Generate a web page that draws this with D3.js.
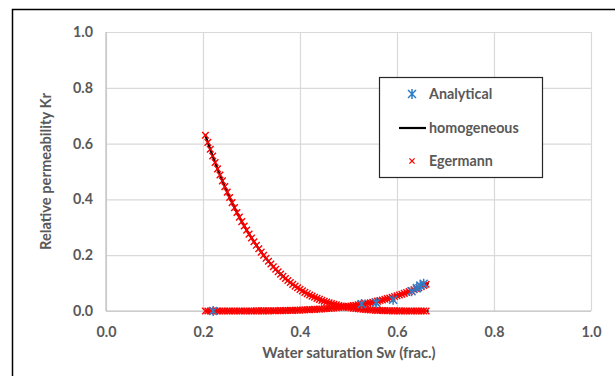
<!DOCTYPE html>
<html>
<head>
<meta charset="utf-8">
<script src="https://cdn.jsdelivr.net/npm/d3@7"></script>
<style>
  html, body { margin: 0; padding: 0; background: #fff; }
  svg { display: block; }
  text { font-family: Lato, "Liberation Sans", sans-serif; font-weight: 700; fill: #595959; }
</style>
</head>
<body>
<svg id="chart" width="615" height="376"></svg>
<script>
// Axis ticks
const xTicks = [0, 0.2, 0.4, 0.6, 0.8, 1.0];
const yTicks = [0, 0.2, 0.4, 0.6, 0.8, 1.0];

// Homogeneous model curves (oil and water relative permeability)
const homSw  = [0.205, 0.22, 0.24, 0.26, 0.28, 0.30, 0.32, 0.34, 0.36, 0.38, 0.40, 0.42,
                0.44, 0.46, 0.48, 0.50, 0.52, 0.54, 0.56, 0.58, 0.60, 0.62, 0.64, 0.665];
const homKro = [0.630, 0.555, 0.466, 0.388, 0.320, 0.262, 0.211, 0.168, 0.132, 0.102, 0.0775, 0.0575,
                0.0416, 0.0292, 0.0198, 0.0128, 0.0078, 0.0045, 0.0023, 0.0010, 0.0004, 0.0001, 0, 0];
const homKrw = [0, 0, 0, 0, 0.0001, 0.0002, 0.0004, 0.0007, 0.0013, 0.0021, 0.0032, 0.0048,
                0.0068, 0.0094, 0.0128, 0.0169, 0.0220, 0.0281, 0.0355, 0.0442, 0.0544, 0.0663, 0.0800, 0.1000];

// Egermann estimates
const egSw = [0.205, 0.210, 0.215, 0.220, 0.225, 0.230, 0.235, 0.240, 0.245, 0.250,
              0.255, 0.260, 0.265, 0.270, 0.275, 0.280, 0.285, 0.290, 0.295, 0.300,
              0.305, 0.310, 0.315, 0.320, 0.325, 0.330, 0.335, 0.340, 0.345, 0.350,
              0.355, 0.360, 0.365, 0.370, 0.375, 0.380, 0.385, 0.390, 0.395, 0.400,
              0.405, 0.410, 0.415, 0.420, 0.425, 0.430, 0.435, 0.440, 0.445, 0.450,
              0.455, 0.460, 0.465, 0.470, 0.475, 0.480, 0.485, 0.490, 0.495, 0.500,
              0.505, 0.510, 0.515, 0.520, 0.525, 0.530, 0.535, 0.540, 0.545, 0.550,
              0.555, 0.560, 0.565, 0.570, 0.575, 0.580, 0.585, 0.590, 0.595, 0.600,
              0.605, 0.610, 0.615, 0.620, 0.625, 0.630, 0.635, 0.640, 0.645, 0.650,
              0.655, 0.660];
const egKro = [0.6300, 0.6044, 0.5795, 0.5554, 0.5321, 0.5095, 0.4876, 0.4664, 0.4459, 0.4260,
               0.4068, 0.3883, 0.3704, 0.3531, 0.3364, 0.3203, 0.3048, 0.2899, 0.2754, 0.2616,
               0.2482, 0.2354, 0.2230, 0.2111, 0.1997, 0.1888, 0.1783, 0.1683, 0.1586, 0.1494,
               0.1406, 0.1322, 0.1241, 0.1164, 0.1091, 0.1022, 0.0955, 0.0892, 0.0832, 0.0775,
               0.0721, 0.0669, 0.0621, 0.0575, 0.0532, 0.0491, 0.0452, 0.0416, 0.0382, 0.0350,
               0.0320, 0.0292, 0.0266, 0.0242, 0.0219, 0.0198, 0.0178, 0.0160, 0.0143, 0.0128,
               0.0114, 0.0101, 0.0089, 0.0078, 0.0069, 0.0060, 0.0052, 0.0045, 0.0038, 0.0033,
               0.0027, 0.0023, 0.0019, 0.0016, 0.0013, 0.0010, 0.0008, 0.0006, 0.0005, 0.0004,
               0.0003, 0.0002, 0.0001, 0.0001, 0, 0, 0, 0, 0, 0,
               0, 0];
const egKrw = [0, 0, 0, 0, 0, 0, 0, 0, 0, 0,
               0, 0, 0, 0, 0.0001, 0.0001, 0.0001, 0.0001, 0.0001, 0.0002,
               0.0002, 0.0003, 0.0003, 0.0004, 0.0005, 0.0005, 0.0006, 0.0007, 0.0009, 0.0010,
               0.0011, 0.0013, 0.0015, 0.0017, 0.0019, 0.0021, 0.0023, 0.0026, 0.0029, 0.0032,
               0.0036, 0.0039, 0.0043, 0.0048, 0.0052, 0.0057, 0.0063, 0.0068, 0.0074, 0.0080,
               0.0087, 0.0094, 0.0102, 0.0110, 0.0119, 0.0128, 0.0137, 0.0147, 0.0158, 0.0169,
               0.0181, 0.0193, 0.0206, 0.0220, 0.0234, 0.0249, 0.0265, 0.0281, 0.0298, 0.0316,
               0.0335, 0.0355, 0.0375, 0.0396, 0.0419, 0.0442, 0.0466, 0.0491, 0.0517, 0.0544,
               0.0572, 0.0601, 0.0631, 0.0662, 0.0695, 0.0729, 0.0764, 0.0800, 0.0837, 0.0876,
               0.0916, 0.0957];

// Analytical solution points
const anaSw = [0.221, 0.527, 0.557, 0.592, 0.630, 0.641, 0.648, 0.655];
const anaKr = [0.000, 0.025, 0.030, 0.040, 0.071, 0.082, 0.091, 0.098];

const legendLabels = ["Analytical", "homogeneous", "Egermann"];

const svg = d3.select("#chart");
const W = 615, H = 376;
const plot = { left: 106, right: 591, top: 32, bottom: 311 };
const FS = 14.3;

svg.append("rect").attr("width", W).attr("height", H).attr("fill", "#fff");
// chart frame
svg.append("rect")
  .attr("x", 12.5).attr("y", 9.5).attr("width", W).attr("height", H)
  .attr("fill", "none").attr("stroke", "#000").attr("stroke-width", 1.5);

const x = d3.scaleLinear().domain([0, 1]).range([plot.left, plot.right]);
const y = d3.scaleLinear().domain([0, 1]).range([plot.bottom, plot.top]);
const fmt = d3.format(".1f");

// gridlines
const gx = svg.append("g").attr("transform", `translate(0,${plot.bottom})`)
  .call(d3.axisBottom(x).tickValues(xTicks).tickSize(-(plot.bottom - plot.top)).tickFormat(""));
const gy = svg.append("g").attr("transform", `translate(${plot.left},0)`)
  .call(d3.axisLeft(y).tickValues(yTicks).tickSize(-(plot.right - plot.left)).tickFormat(""));
[gx, gy].forEach(g => {
  g.select(".domain").remove();
  g.selectAll(".tick line").attr("stroke", "#D9D9D9").attr("stroke-width", 1.2);
});
// axis lines
svg.append("line").attr("x1", plot.left).attr("x2", plot.right).attr("y1", y(0)).attr("y2", y(0))
  .attr("stroke", "#BFBFBF").attr("stroke-width", 1.2);
svg.append("line").attr("x1", plot.left).attr("x2", plot.left).attr("y1", plot.top).attr("y2", plot.bottom)
  .attr("stroke", "#BFBFBF").attr("stroke-width", 1.2);

// tick labels
const ax = svg.append("g").attr("transform", `translate(0,${plot.bottom + 13})`)
  .call(d3.axisBottom(x).tickValues(xTicks).tickSize(0).tickFormat(fmt));
const ay = svg.append("g").attr("transform", `translate(${plot.left - 10},0)`)
  .call(d3.axisLeft(y).tickValues(yTicks).tickSize(0).tickFormat(fmt));
[ax, ay].forEach(g => {
  g.select(".domain").remove();
  g.selectAll("text").attr("font-family", "Lato, sans-serif").attr("font-weight", 700)
    .attr("font-size", FS).attr("fill", "#595959");
});

// axis titles
svg.append("text").attr("x", 349).attr("y", 358).attr("text-anchor", "middle")
  .attr("font-size", FS + 0.4).text("Water saturation Sw (frac.)");
svg.append("text").attr("transform", `translate(51,${(plot.top + plot.bottom) / 2}) rotate(-90)`)
  .attr("text-anchor", "middle").attr("font-size", FS + 0.4).text("Relative permeability Kr");

// marker paths
const crossPath = s => `M${-s},${-s}L${s},${s}M${-s},${s}L${s},${-s}`;
const starPath = s => `M${-s},${-s}L${s},${s}M${-s},${s}L${s},${-s}M0,${-s * 1.25}L0,${s * 1.25}`;
const red = "#FF0000", blue = "#2E7DC6";

// homogeneous curves
const line = d3.line().x(d => x(d[0])).y(d => y(d[1])).curve(d3.curveMonotoneX);
[homKro, homKrw].forEach(arr => {
  svg.append("path").datum(homSw.map((s, i) => [s, arr[i]]))
    .attr("d", line).attr("fill", "none").attr("stroke", "#000").attr("stroke-width", 2.2);
});

// Egermann markers
const eg = svg.append("g");
[egKro, egKrw].forEach(arr => {
  eg.selectAll(null).data(egSw.map((s, i) => [s, arr[i]])).enter().append("path")
    .attr("transform", d => `translate(${x(d[0])},${y(d[1])})`)
    .attr("d", crossPath(3.3)).attr("stroke", red).attr("stroke-width", 1.4).attr("fill", "none");
});

// analytical markers
svg.selectAll(null).data(anaSw.map((s, i) => [s, anaKr[i]])).enter().append("path")
  .attr("transform", d => `translate(${x(d[0])},${y(d[1])})`)
  .attr("d", starPath(4)).attr("stroke", blue).attr("stroke-width", 1.5).attr("fill", "none");

// legend
const lg = svg.append("g");
lg.append("rect").attr("x", 379.5).attr("y", 77.5).attr("width", 163).attr("height", 100)
  .attr("fill", "#fff").attr("stroke", "#262626").attr("stroke-width", 1.2);
const rows = [94, 128, 161];
lg.append("path").attr("transform", `translate(412,${rows[0]})`).attr("d", starPath(4))
  .attr("stroke", blue).attr("stroke-width", 1.5).attr("fill", "none");
lg.append("line").attr("x1", 399).attr("x2", 426).attr("y1", rows[1]).attr("y2", rows[1])
  .attr("stroke", "#000").attr("stroke-width", 2.2);
lg.append("path").attr("transform", `translate(412,${rows[2]})`).attr("d", crossPath(2.6))
  .attr("stroke", red).attr("stroke-width", 1.3).attr("fill", "none");
legendLabels.forEach((t, i) => {
  lg.append("text").attr("x", 429).attr("y", rows[i] + 5).attr("font-size", FS).text(t);
});
</script>
</body>
</html>
